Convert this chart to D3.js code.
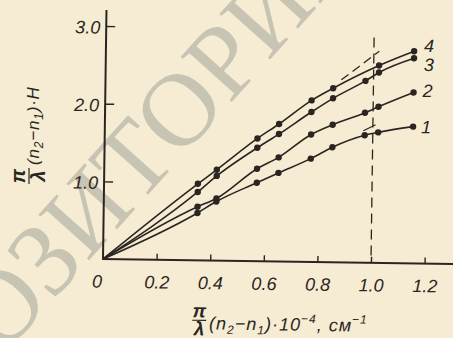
<!DOCTYPE html>
<html>
<head>
<meta charset="utf-8">
<script src="https://cdn.jsdelivr.net/npm/d3@7"></script>
<style>
  html, body { margin: 0; padding: 0; background: #f5ecd3; }
  svg { display: block; }
  .ink { font-family: "Liberation Sans", Arial, sans-serif; font-style: italic; fill: #2b2521; }
</style>
</head>
<body>
<svg id="chart" width="453" height="338"></svg>
<script>
// values
const xValues = [0.35, 0.42, 0.57, 0.65, 0.77, 0.85, 0.97, 1.02, 1.15];
const curve1 = [0.61, 0.76, 1.01, 1.14, 1.33, 1.48, 1.64, 1.68, 1.76];
const curve2 = [0.69, 0.80, 1.19, 1.34, 1.64, 1.77, 1.93, 2.01, 2.20];
const curve3 = [0.88, 1.09, 1.46, 1.64, 1.93, 2.11, 2.34, 2.45, 2.64];
const curve4 = [0.985, 1.17, 1.58, 1.77, 2.08, 2.24, null, 2.54, 2.73];
const curveNames = ['1', '2', '3', '4'];
const xTicks = [0, 0.2, 0.4, 0.6, 0.8, 1.0, 1.2];
const yTicks = [1.0, 2.0, 3.0];
const xTickLabels = ['0', '0.2', '0.4', '0.6', '0.8', '1.0', '1.2'];
const yTickLabels = ['1.0', '2.0', '3.0'];
// dashed extrapolations of the linear part (slope, from x, to x)
const tangentSlopes = [2.67, 1.76];
const tangentFrom = [0.88, 0.965];
const tangentTo = [1.02, 1.01];
const markerX = 1.0;

const width = 453, height = 338;
const ink = '#2b2521';
const svg = d3.select('#chart');

const x = d3.scaleLinear().domain([0, 1.2]).range([103, 103 + 1.2 * 268]);
const y = d3.scaleLinear().domain([0, 3]).range([259, 26]);

// watermark
const wm = svg.append('g')
  .attr('transform', 'translate(2,357) rotate(-48)')
  .style('font-family', '"Liberation Serif", "Times New Roman", serif')
  .style('font-size', '104px')
  .attr('fill', '#c8c4b4');
wm.append('text').attr('text-anchor', 'end').text('РЕП');
wm.append('text').attr('text-anchor', 'start').text('ОЗИТОРИЙ');

// the scan is slightly turned
const g = svg.append('g').attr('transform', `rotate(0.8, ${x(0)}, ${y(0)})`);

// axis lines
g.append('line')
  .attr('x1', x(0)).attr('x2', width + 10)
  .attr('y1', y(0)).attr('y2', y(0))
  .attr('stroke', ink).attr('stroke-width', 2);
g.append('line')
  .attr('x1', x(0)).attr('x2', x(0))
  .attr('y1', y(0) + 1).attr('y2', y(3) - 16)
  .attr('stroke', ink).attr('stroke-width', 2);

// x axis
const xAxis = g.append('g')
  .attr('transform', `translate(0,${y(0)})`)
  .call(d3.axisBottom(x).tickValues(xTicks)
    .tickFormat((d, i) => xTickLabels[i])
    .tickSizeInner(-6).tickSizeOuter(0).tickPadding(16));
xAxis.select('.domain').remove();
xAxis.selectAll('line').attr('stroke', ink).attr('stroke-width', 1.4)
  .filter(d => d === 0).remove();
xAxis.selectAll('text')
  .attr('class', 'ink')
  .attr('fill', null)
  .style('font-size', '18px')
  .attr('dx', d => d === 0 ? -6 : 0);
xAxis.attr('font-family', null).attr('font-size', null);

// y axis
const yAxis = g.append('g')
  .attr('transform', `translate(${x(0)},0)`)
  .call(d3.axisLeft(y).tickValues(yTicks)
    .tickFormat((d, i) => yTickLabels[i])
    .tickSizeInner(-9).tickSizeOuter(0).tickPadding(6));
yAxis.select('.domain').remove();
yAxis.selectAll('line').attr('stroke', ink).attr('stroke-width', 1.4);
yAxis.selectAll('text')
  .attr('class', 'ink')
  .attr('fill', null)
  .style('font-size', '18px')
  .attr('dy', '0.4em');
yAxis.attr('font-family', null).attr('font-size', null);

// vertical dashed marker
g.append('line')
  .attr('x1', x(markerX)).attr('x2', x(markerX))
  .attr('y1', y(2.9)).attr('y2', y(0))
  .attr('stroke', ink).attr('stroke-width', 1.3)
  .attr('stroke-dasharray', '10,6');

// tangent extrapolations
tangentSlopes.forEach((k, i) => {
  g.append('line')
    .attr('x1', x(tangentFrom[i])).attr('y1', y(k * tangentFrom[i]))
    .attr('x2', x(tangentTo[i])).attr('y2', y(k * tangentTo[i]))
    .attr('stroke', ink).attr('stroke-width', 1.3)
    .attr('stroke-dasharray', i === 0 ? '9,5' : null);
});

// curves and points
const allCurves = [curve1, curve2, curve3, curve4];
const line = d3.line()
  .x(d => x(d[0]))
  .y(d => y(d[1]))
  .curve(d3.curveMonotoneX);

allCurves.forEach(vals => {
  const pts = xValues.map((xv, i) => [xv, vals[i]]).filter(d => d[1] !== null);
  g.append('path')
    .datum([[0, 0]].concat(pts))
    .attr('fill', 'none')
    .attr('stroke', ink)
    .attr('stroke-width', 1.6)
    .attr('d', line);
  g.selectAll(null)
    .data(pts)
    .enter().append('circle')
    .attr('cx', d => x(d[0]))
    .attr('cy', d => y(d[1]))
    .attr('r', 3.2)
    .attr('fill', ink);
});

// curve numbers
const labelDx = [13, 14, 15, 15];
const labelDy = [0, -2, 6, -6];
allCurves.forEach((vals, i) => {
  const last = vals.length - 1;
  g.append('text')
    .attr('class', 'ink')
    .attr('x', x(xValues[last]) + labelDx[i])
    .attr('y', y(vals[last]) + labelDy[i])
    .attr('dy', '0.36em')
    .attr('text-anchor', 'middle')
    .style('font-size', '18px')
    .text(curveNames[i]);
});

// x axis title
const xt = g.append('g').attr('transform', 'translate(200,319)');
xt.append('text').attr('class', 'ink').attr('text-anchor', 'middle')
  .attr('y', -3).style('font-size', '19px').style('font-weight', 'bold').text('π');
xt.append('line').attr('x1', -7).attr('x2', 7).attr('stroke', ink).attr('stroke-width', 1.2);
xt.append('text').attr('class', 'ink').attr('text-anchor', 'middle')
  .attr('y', 15).style('font-size', '19px').style('font-weight', 'bold').text('λ');
const xtt = xt.append('text').attr('class', 'ink')
  .attr('x', 10).attr('y', 9).style('font-size', '18px').style('letter-spacing', '1px');
xtt.append('tspan').text('(n');
xtt.append('tspan').attr('dy', 4).style('font-size', '12px').text('2');
xtt.append('tspan').attr('dy', -4).text('−n');
xtt.append('tspan').attr('dy', 4).style('font-size', '12px').text('1');
xtt.append('tspan').attr('dy', -4).text(')·10');
xtt.append('tspan').attr('dy', -8).style('font-size', '12px').text('−4');
xtt.append('tspan').attr('dy', 8).text(', см');
xtt.append('tspan').attr('dy', -8).style('font-size', '12px').text('−1');

// y axis title
const yt = svg.append('g').attr('transform', 'translate(29,176) rotate(-90)');
yt.append('text').attr('class', 'ink').attr('text-anchor', 'middle')
  .attr('y', -4).style('font-size', '20px').style('font-weight', 'bold').text('π');
yt.append('line').attr('x1', -8).attr('x2', 8).attr('stroke', ink).attr('stroke-width', 1.2);
yt.append('text').attr('class', 'ink').attr('text-anchor', 'middle')
  .attr('y', 16).style('font-size', '20px').style('font-weight', 'bold').text('λ');
const ytt = yt.append('text').attr('class', 'ink')
  .attr('x', 11).attr('y', 10).style('font-size', '17px').style('letter-spacing', '0.8px');
ytt.append('tspan').text('(n');
ytt.append('tspan').attr('dy', 4).style('font-size', '12px').text('2');
ytt.append('tspan').attr('dy', -4).text('−n');
ytt.append('tspan').attr('dy', 4).style('font-size', '12px').text('1');
ytt.append('tspan').attr('dy', -4).text(')·H');
</script>
</body>
</html>
